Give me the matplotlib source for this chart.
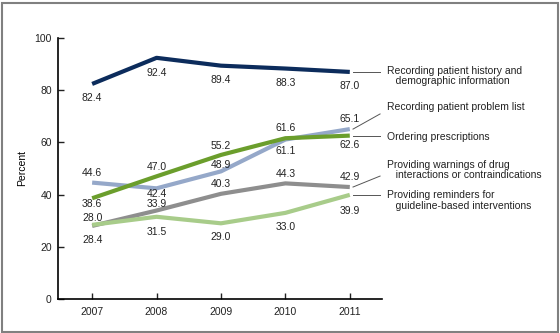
import matplotlib
matplotlib.use('Agg')
import matplotlib.pyplot as plt
from matplotlib.patches import Rectangle

plt.rcParams['font.family'] = ['Liberation Sans', 'DejaVu Sans']

years = [2007, 2008, 2009, 2010, 2011]
history = [82.4, 92.4, 89.4, 88.3, 87.0]
problem_list = [44.6, 42.4, 48.9, 61.1, 65.1]
prescriptions = [38.6, 47.0, 55.2, 61.6, 62.6]
warnings = [28.0, 33.9, 40.3, 44.3, 42.9]
reminders = [28.4, 31.5, 29.0, 33.0, 39.9]

names = ['Recording patient history and\n   demographic information',
         'Recording patient problem list',
         'Ordering prescriptions',
         'Providing warnings of drug\n   interactions or contraindications',
         'Providing reminders for\n   guideline-based interventions']

series = [history, problem_list, prescriptions, warnings, reminders]
colors = ['#0c2c5c', '#95a8c9', '#6b9e2c', '#8e8e8e', '#a8cc8a']

# label offsets in pixels (up is positive)
label_dy = [[-14.5, -15, -14, -14.5, -14],
            [10, -5.5, 6, -11, 10],
            [-6, 9, 9, 10.5, -9.5],
            [8, 6.5, 10, 9.5, 10],
            [-15, -15, -14, -14, -16.5]]

# right-side names: y of leader end and y of text centre (data units)
leader_end = [87.0, 70.9, 62.6, 47.1, 39.9]
text_y = [85.5, 73.6, 62.0, 49.4, 37.8]

fig = plt.figure(figsize=(5.6, 3.33), dpi=100)
ax = fig.add_axes([58 / 560, 1 - 299 / 333, (382 - 58) / 560, (299 - 38) / 333])

for vals, c, dys in zip(series, colors, label_dy):
    ax.plot(years, vals, color=c, lw=3, solid_capstyle='butt', zorder=3)
    for x, v, dy in zip(years, vals, dys):
        ax.annotate(f'{v:.1f}', (x, v), xytext=(0, dy * 0.72),
                    textcoords='offset points', ha='center', va='center',
                    fontsize=7.5, color='#222222', zorder=4)

for vals, name, le, ty in zip(series, names, leader_end, text_y):
    ax.plot([2011.05, 2011.47], [vals[-1], le], color='#555555', lw=0.7,
            clip_on=False)
    ax.text(2011.57, ty, name, fontsize=7.5, va='center', ha='left',
            color='#222222', linespacing=1.05, clip_on=False)

ax.set_xlim(2006.47, 2011.5)
ax.set_ylim(0, 100)
ax.set_xticks(years)
ax.set_yticks([0, 20, 40, 60, 80, 100])
ax.tick_params(direction='in', length=4, width=1, labelsize=7.5,
               colors='#222222')
ax.tick_params(axis='y', pad=4.5)
ax.tick_params(axis='x', pad=6)
ax.spines['top'].set_visible(False)
ax.spines['right'].set_visible(False)
ax.spines['left'].set_linewidth(1.2)
ax.spines['bottom'].set_linewidth(1.2)
ax.set_ylabel('Percent', fontsize=7.5, labelpad=5)

fig.patches.append(Rectangle((1.5 / 560, 1.5 / 333), 556 / 560, 329 / 333,
                             transform=fig.transFigure, fill=False,
                             edgecolor='#808080', lw=1.5))

fig.savefig('out.png', dpi=100)
